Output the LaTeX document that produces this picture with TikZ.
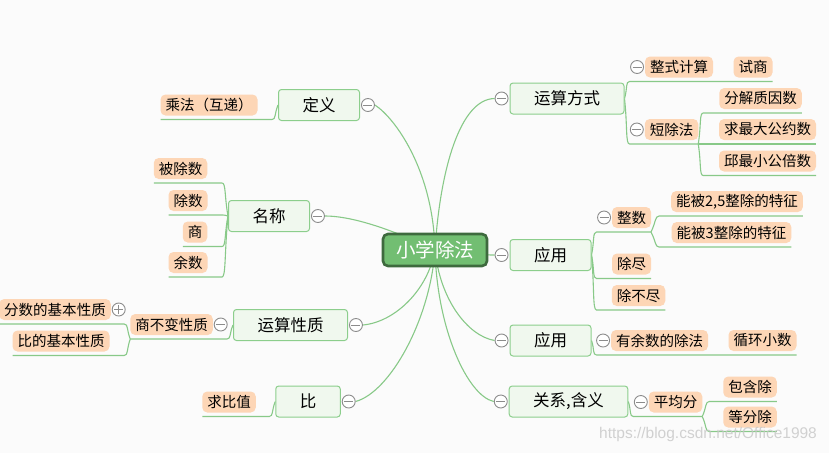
\documentclass[tikz,border=0pt]{standalone}
\usepackage{fontspec}
\newfontfamily\cjk{Noto Sans CJK SC}
\newfontfamily\wmfont{Liberation Sans}
\usetikzlibrary{positioning,calc,backgrounds}
\definecolor{bgc}{RGB}{251,251,251}
\definecolor{rootfill}{RGB}{114,190,114}
\definecolor{rootline}{RGB}{62,106,62}
\definecolor{topfill}{RGB}{240,248,238}
\definecolor{topline}{RGB}{140,206,140}
\definecolor{leaffill}{RGB}{253,214,182}
\definecolor{brc}{RGB}{136,201,136}
\definecolor{foldc}{RGB}{140,140,140}
\tikzset{
  rt/.style={draw=rootline,fill=rootfill,line width=2.6pt,rounded corners=5pt,minimum width=104pt,minimum height=32pt,inner sep=0pt,text=white,font=\cjk\fontsize{19.5}{22}\selectfont},
  tp/.style={draw=topline,fill=topfill,line width=1pt,rounded corners=3pt,minimum height=31pt,inner xsep=24pt,inner ysep=0pt,font=\cjk\fontsize{16.5}{19}\selectfont},
  lf/.style={fill=leaffill,rounded corners=5pt,minimum height=21pt,inner xsep=5pt,inner ysep=0pt,outer xsep=0pt,outer ysep=4pt,font=\cjk\fontsize{14.5}{17}\selectfont},
  fm/.style={circle,draw=foldc,fill=white,line width=0.9pt,minimum size=13pt,inner sep=0pt,
    path picture={\draw[foldc,line width=0.9pt] ([xshift=-4.5pt]path picture bounding box.center)--([xshift=4.5pt]path picture bounding box.center);}},
  fp/.style={circle,draw=foldc,fill=white,line width=0.9pt,minimum size=13pt,inner sep=0pt,
    path picture={\draw[foldc,line width=0.9pt] ([xshift=-4.5pt]path picture bounding box.center)--([xshift=4.5pt]path picture bounding box.center)
      ([yshift=-4.5pt]path picture bounding box.center)--([yshift=4.5pt]path picture bounding box.center);}},
  ln/.style={draw=brc,line width=1.1pt},
  forkr/.style={to path={.. controls ($(\tikztostart)!0.6!(\tikztotarget)$) and ([xshift=-4pt]\tikztotarget) .. (\tikztotarget)}},
  forkl/.style={to path={.. controls ($(\tikztostart)!0.6!(\tikztotarget)$) and ([xshift=4pt]\tikztotarget) .. (\tikztotarget)}},
}
\begin{document}
\begin{tikzpicture}[x=1pt,y=1pt]
\useasboundingbox (0,0) rectangle (829,-453);
% centre and main topics
\node[rt] (root) at (435,-250) {小学除法};
\node[tp] (dy) at (319,-105) {定义};
\node[tp] (mc) at (269,-216) {名称};
\node[tp] (yszx) at (290.5,-325) {运算性质};
\node[tp] (bi) at (308,-401.5) {比};
\node[tp] (ysfs) at (567,-98.5) {运算方式};
\node[tp] (yy1) at (550.5,-255) {应用};
\node[tp] (yy2) at (550.5,-340.5) {应用};
\node[tp] (gxhy) at (568.5,-401.5) {关系,含义};
% left leaves
\node[lf] (cf) at (209,-105) {乘法（互递）};
\node[lf] (bcs) at (180.5,-168.5) {被除数};
\node[lf] (cs) at (188,-200.5) {除数};
\node[lf] (shang) at (195,-232) {商};
\node[lf] (ysh) at (188,-262.5) {余数};
\node[lf] (sbbx) at (171.5,-324.5) {商不变性质};
\node[lf] (fsxz) at (55,-309.5) {分数的基本性质};
\node[lf] (bxz) at (61,-341) {比的基本性质};
\node[lf] (qbz) at (229,-402) {求比值};
% right leaves
\node[lf] (zsjs) at (679,-67) {整式计算};
\node[lf] (ss) at (753,-67) {试商};
\node[lf] (dcf) at (671.5,-129.5) {短除法};
\node[lf] (fjzys) at (760.5,-98.5) {分解质因数};
\node[lf] (zdgys) at (767.5,-129.5) {求最大公约数};
\node[lf] (zxgbs) at (767.5,-161) {邱最小公倍数};
\node[lf] (zs) at (631.5,-217.5) {整数};
\node[lf] (n25) at (737,-201.5) {能被2,5整除的特征};
\node[lf] (n3) at (731.5,-232.5) {能被3整除的特征};
\node[lf] (cj) at (631.5,-264) {除尽};
\node[lf] (cbj) at (638.5,-295.5) {除不尽};
\node[lf] (yysdcf) at (659.5,-340.5) {有余数的除法};
\node[lf] (xhxs) at (762.5,-340.5) {循环小数};
\node[lf] (pjf) at (675.5,-402) {平均分};
\node[lf] (bhc) at (750,-387) {包含除};
\node[lf] (dfc) at (750,-417) {等分除};
% fold marks
\node[fm,right=1pt of dy] (dy-f) {};
\node[fm,right=1pt of mc] (mc-f) {};
\node[fm,right=1pt of yszx] (yszx-f) {};
\node[fm,right=1pt of bi] (bi-f) {};
\node[fm,right=1pt of sbbx] (sbbx-f) {};
\node[fp,right=1pt of fsxz] (fsxz-f) {};
\node[fm,left=1pt of ysfs] (ysfs-f) {};
\node[fm,left=1pt of yy1] (yy1-f) {};
\node[fm,left=1pt of yy2] (yy2-f) {};
\node[fm,left=1pt of gxhy] (gxhy-f) {};
\node[fm,left=1pt of zsjs] (zsjs-f) {};
\node[fm,left=1pt of dcf] (dcf-f) {};
\node[fm,left=1pt of zs] (zs-f) {};
\node[fm,left=1pt of yysdcf] (yysdcf-f) {};
\node[fm,left=1pt of pjf] (pjf-f) {};
% junctions
\coordinate (dy-j) at ([xshift=-6pt]dy.west);
\coordinate (mc-j) at ([xshift=-6pt]mc.west);
\coordinate (yszx-j) at ([xshift=-6pt]yszx.west);
\coordinate (bi-j) at ([xshift=-6pt]bi.west);
\coordinate (sbbx-j) at ([xshift=-6pt]sbbx.south west);
\coordinate (ysfs-j) at ([xshift=5pt]ysfs.east);
\coordinate (yy1-j) at ([xshift=5pt]yy1.east);
\coordinate (yy2-j) at ([xshift=5pt]yy2.east);
\coordinate (gxhy-j) at ([xshift=5pt]gxhy.east);
\coordinate (dcf-j) at ([xshift=5pt]dcf.south east);
\coordinate (zs-j) at ([xshift=8pt]zs.south east);
\coordinate (pjf-j) at ([xshift=7pt]pjf.south east);
\node[font=\wmfont\fontsize{15.5}{18}\selectfont,text=gray!45,opacity=0.8] (wm) at (708,-434) {https://blog.csdn.net/Office1998};
\begin{scope}[on background layer]
\fill[bgc] (0,0) rectangle (829,-453);
% main curves
\draw[ln] (root.center) .. controls (440,-170) and (460,-99) .. (ysfs-f.west);
\draw[ln] (root.center) .. controls (460,-253) and (478,-255) .. (yy1-f.west);
\draw[ln] (root.center) .. controls (440,-300) and (468,-336) .. (yy2-f.west);
\draw[ln] (root.center) .. controls (437,-330) and (468,-396) .. (gxhy-f.west);
\draw[ln] (root.center) .. controls (433,-170) and (395,-118) .. (dy-f.east);
\draw[ln] (root.center) .. controls (410,-238) and (360,-216) .. (mc-f.east);
\draw[ln] (root.center) .. controls (428,-290) and (395,-322) .. (yszx-f.east);
\draw[ln] (root.center) .. controls (430,-320) and (390,-392) .. (bi-f.east);
% left branches
\draw[ln] (dy.west) to[forkl] (cf.south -| dy-j) -- (cf.south west);
\draw[ln] (mc.west) to[forkl] (bcs.south -| mc-j) -- (bcs.south west);
\draw[ln] (mc.west) to[forkl] (cs.south -| mc-j) -- (cs.south west);
\draw[ln] (mc.west) to[forkl] (shang.south -| mc-j) -- (shang.south west);
\draw[ln] (mc.west) to[forkl] (ysh.south -| mc-j) -- (ysh.south west);
\draw[ln] (yszx.west) to[forkl] (sbbx.south -| yszx-j) -- (sbbx.south west);
\draw[ln] (sbbx.south west) to[forkl] (fsxz.south -| sbbx-j) -- (fsxz.south west);
\draw[ln] (sbbx.south west) to[forkl] (bxz.south -| sbbx-j) -- (bxz.south west);
\draw[ln] (bi.west) to[forkl] (qbz.south -| bi-j) -- (qbz.south west);
% right branches
\draw[ln] (ysfs.east) to[forkr] (zsjs.south -| ysfs-j) -- (zsjs.south east) -- (ss.south east);
\draw[ln] (ysfs.east) to[forkr] (dcf.south -| ysfs-j) -- (dcf.south east);
\draw[ln] (dcf.south east) to[forkr] (fjzys.south -| dcf-j) -- (fjzys.south east);
\draw[ln] (dcf.south east) to[forkr] (zdgys.south -| dcf-j) -- (zdgys.south east);
\draw[ln] (dcf.south east) to[forkr] (zxgbs.south -| dcf-j) -- (zxgbs.south east);
\draw[ln] (yy1.east) to[forkr] (zs.south -| yy1-j) -- (zs.south east);
\draw[ln] (zs.south east) to[forkr] (n25.south -| zs-j) -- (n25.south east);
\draw[ln] (zs.south east) to[forkr] (n3.south -| zs-j) -- (n3.south east);
\draw[ln] (yy1.east) to[forkr] (cj.south -| yy1-j) -- (cj.south east);
\draw[ln] (yy1.east) to[forkr] (cbj.south -| yy1-j) -- (cbj.south east);
\draw[ln] (yy2.east) to[forkr] (yysdcf.south -| yy2-j) -- (yysdcf.south east) -- (xhxs.south east);
\draw[ln] (gxhy.east) to[forkr] (pjf.south -| gxhy-j) -- (pjf.south east);
\draw[ln] (pjf.south east) to[forkr] (bhc.south -| pjf-j) -- (bhc.south east);
\draw[ln] (pjf.south east) to[forkr] (dfc.south -| pjf-j) -- (dfc.south east);
\end{scope}
\end{tikzpicture}
\end{document}
